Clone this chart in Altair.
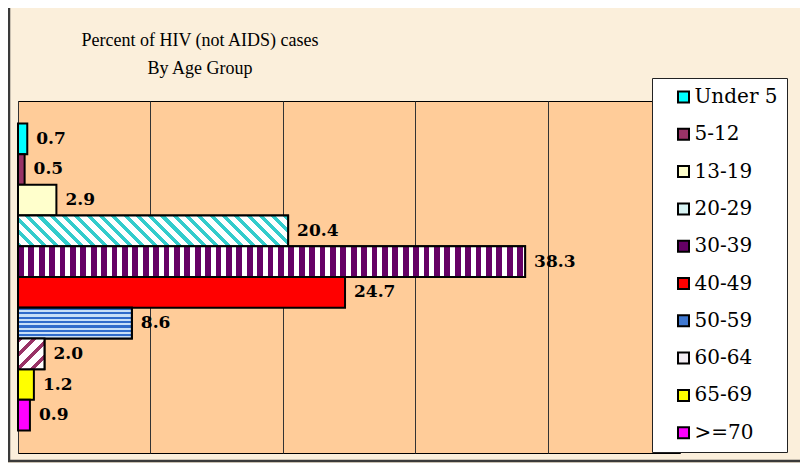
import altair as alt
import pandas as pd

# ---------------- data ----------------
groups = ["Under 5", "5-12", "13-19", "20-29", "30-39",
          "40-49", "50-59", "60-64", "65-69", ">=70"]
percent = [0.7, 0.5, 2.9, 20.4, 38.3, 24.7, 8.6, 2.0, 1.2, 0.9]
legend_colors = ["#00FFFF", "#993366", "#FFFFCC", "#D8F4F4", "#660066",
                 "#FF0000", "#3F78D0", "#F2ECF2", "#FFFF00", "#FF00FF"]
grid_values = [0, 10, 20, 30, 40, 50]
title_lines = ["Percent of HIV (not AIDS) cases", "By Age Group"]

# ---------------- layout ----------------
PLOT_W, PLOT_H = 662, 352
X_MAX = 50
PAD_OUTER = 0.73
PX_PER_UNIT = PLOT_W / X_MAX
STEP = PLOT_H / (len(groups) + 2 * PAD_OUTER)

df = pd.DataFrame({"group": groups, "pct": percent})


def stripe_stops(c1, c2, n, frac):
    stops = []
    for i in range(int(n) + 1):
        a = i / n
        b = (i + frac) / n
        c = (i + 1) / n
        for col, off in ((c1, a), (c1, b), (c2, b), (c2, c)):
            stops.append(alt.GradientStop(color=col, offset=min(max(off, 0.0), 1.0)))
    return stops


def diag_gradient(value, c1, c2, period, frac, direction):
    w = value * PX_PER_UNIT
    h = STEP
    r = h / w
    k = (1 + r) / (1 + r * r)
    n = (w + h) / period
    if direction == "back":  # "\" stripes
        x1, y1, x2, y2 = 0, 1, k, 1 - k * r
    else:  # "/" stripes
        x1, y1, x2, y2 = 0, 0, k, k * r
    return alt.LinearGradient(gradient="linear", stops=stripe_stops(c1, c2, n, frac),
                              x1=x1, y1=y1, x2=x2, y2=y2)


def vert_gradient(value, c1, c2, period, frac):
    w = value * PX_PER_UNIT
    return alt.LinearGradient(gradient="linear", stops=stripe_stops(c1, c2, w / period, frac),
                              x1=0, y1=0, x2=1, y2=0)


def horiz_gradient(c1, c2, period, frac):
    return alt.LinearGradient(gradient="linear", stops=stripe_stops(c1, c2, STEP / period, frac),
                              x1=0, y1=0, x2=0, y2=1)


val = dict(zip(groups, percent))
patterns = {
    "20-29": diag_gradient(val["20-29"], "#33CCCC", "#FFFFFF", 12.3, 0.42, "back"),
    "30-39": vert_gradient(val["30-39"], "#660066", "#FFFFFF", 10.4, 0.55),
    "50-59": horiz_gradient("#2F6CCB", "#C8E0F8", 4.4, 0.5),
    "60-64": diag_gradient(val["60-64"], "#993366", "#FFFFFF", 14.0, 0.35, "fwd"),
}

x_enc = alt.X("pct:Q",
              scale=alt.Scale(domain=[0, X_MAX], nice=False, zero=True),
              axis=alt.Axis(values=grid_values, labels=False, ticks=False, domain=False,
                            grid=True, gridColor="#333333", gridWidth=1, gridOpacity=1,
                            title=None))
y_enc = alt.Y("group:N", sort=groups,
              scale=alt.Scale(domain=groups, paddingInner=0, paddingOuter=PAD_OUTER),
              axis=None)

base = alt.Chart(df)

bars = base.mark_bar(stroke="black", strokeWidth=2).encode(
    x=x_enc, y=y_enc,
    color=alt.Color("group:N",
                    scale=alt.Scale(domain=groups, range=legend_colors),
                    legend=alt.Legend(
                        title=None, orient="none", legendX=634, legendY=-23,
                        direction="vertical",
                        fillColor="white", strokeColor="#222222",
                        padding=9, rowPadding=17.3,
                        symbolType="square", symbolSize=121,
                        symbolStrokeColor="black", symbolStrokeWidth=2,
                        symbolOffset=12.5, labelOffset=1,
                        labelFont="DejaVu Serif", labelFontSize=20, labelColor="black",
                        labelExpr="datum.label + '   '", labelLimit=300,
                    )),
)

layers = [bars]
for g, grad in patterns.items():
    layers.append(
        base.transform_filter(alt.datum.group == g)
        .mark_bar(fill=grad, stroke="black", strokeWidth=2)
        .encode(x=x_enc, y=y_enc)
    )

labels = base.mark_text(align="left", baseline="middle", dx=9,
                        font="DejaVu Serif", fontSize=17, fontWeight="bold",
                        color="black").encode(
    x=x_enc, y=y_enc, text=alt.Text("pct:Q", format=".1f"))
layers.append(labels)

frame = alt.Chart(pd.DataFrame({"k": [0]})).mark_rect(
    filled=False, stroke="#3a3a3a", strokeWidth=2.5, clip=False).encode(
    x=alt.value(-9), x2=alt.value(PLOT_W + 140),
    y=alt.value(-95), y2=alt.value(PLOT_H + 8))
layers.append(frame)

chart = alt.layer(*layers).properties(
    width=PLOT_W, height=PLOT_H,
    padding={"left": 10, "top": 93, "right": 120, "bottom": 10},
    autosize=alt.AutoSizeParams(type="none"),
    background="#FBEFDB",
    title=alt.TitleParams(text=title_lines, anchor="middle", dx=-149, offset=-91,
                          baseline="bottom",
                          font="Liberation Serif", fontSize=18, fontWeight="normal",
                          lineHeight=28, color="black"),
).configure_view(fill="#FFCC99", stroke="black", strokeWidth=1)

chart.save("out.html", embed_options={"renderer": "svg", "actions": False})
